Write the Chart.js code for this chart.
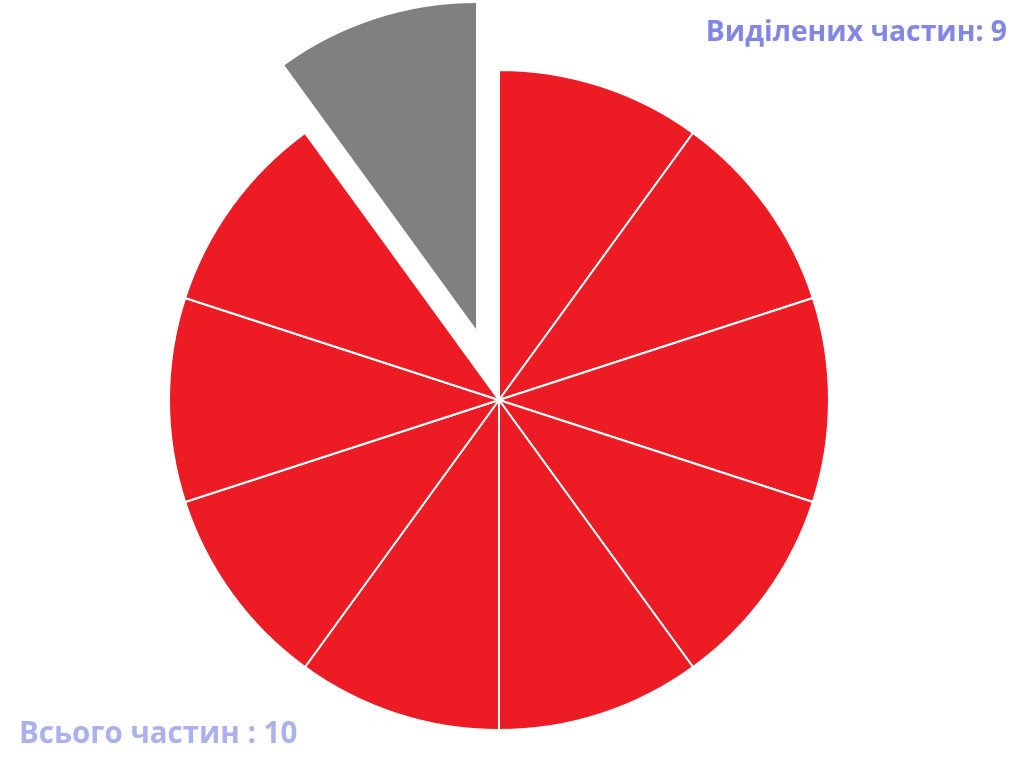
<!DOCTYPE html>
<html>
<head>
<meta charset="utf-8">
<script src="https://cdn.jsdelivr.net/npm/chart.js@4/dist/chart.umd.min.js"></script>
<style>
html,body{margin:0;padding:0;background:#fff;}
#wrap{width:1024px;height:768px;position:relative;}
#wrap canvas{position:absolute;left:0;top:0;}
</style>
</head>
<body>
<div id="wrap"><canvas id="c" width="1024" height="768"></canvas><canvas id="c2" width="1024" height="768"></canvas></div>
<script>
const categories = ['1','2','3','4','5','6','7','8','9','10'];
const values = [1,1,1,1,1,1,1,1,1,1];
const selected = [true,true,true,true,true,true,true,true,true,false];
const titleText = 'Виділених частин: 9';
const totalText = 'Всього частин : 10';

const RED = '#ED1C24', GRAY = '#808080';

const textPlugin = {
  id: 'texts',
  afterDraw(chart) {
    const ctx = chart.ctx;
    ctx.save();
    ctx.textBaseline = 'alphabetic';
    ctx.font = 'bold 28.3px "Open Sans", "DejaVu Sans", sans-serif';
    ctx.fillStyle = '#8286E4';
    ctx.textAlign = 'right';
    ctx.fillText(titleText, 1007, 41);
    ctx.font = 'bold 29.5px "Open Sans", "DejaVu Sans", sans-serif';
    ctx.fillStyle = '#AAB1EE';
    ctx.textAlign = 'left';
    ctx.fillText(totalText, 19, 743);
    ctx.restore();
  }
};

const baseOpts = {
  responsive: false,
  animation: false,
  events: [],
  plugins: {
    legend: { display: false },
    tooltip: { enabled: false },
    title: { display: false }
  }
};

// Selected (red) slices, centred at (499, 400)
new Chart(document.getElementById('c'), {
  type: 'pie',
  data: {
    labels: categories,
    datasets: [{
      data: values,
      backgroundColor: selected.map(s => s ? RED : 'rgba(0,0,0,0)'),
      borderColor: selected.map(s => s ? '#ffffff' : 'rgba(0,0,0,0)'),
      borderWidth: 2,
      hoverOffset: 0
    }]
  },
  options: Object.assign({}, baseOpts, {
    radius: 330,
    layout: { padding: { left: 0, right: 26, top: 32, bottom: 0 } }
  }),
  plugins: [textPlugin]
});

// Unselected (gray) slice, pulled out: same pie, centre moved along the slice bisector
new Chart(document.getElementById('c2'), {
  type: 'pie',
  data: {
    labels: categories,
    datasets: [{
      data: values,
      backgroundColor: selected.map(s => s ? 'rgba(0,0,0,0)' : GRAY),
      borderWidth: 0,
      hoverOffset: 0
    }]
  },
  options: Object.assign({}, baseOpts, {
    radius: 326,
    layout: { padding: { left: 0, right: 72, top: 0, bottom: 110 } }
  })
});
</script>
</body>
</html>
